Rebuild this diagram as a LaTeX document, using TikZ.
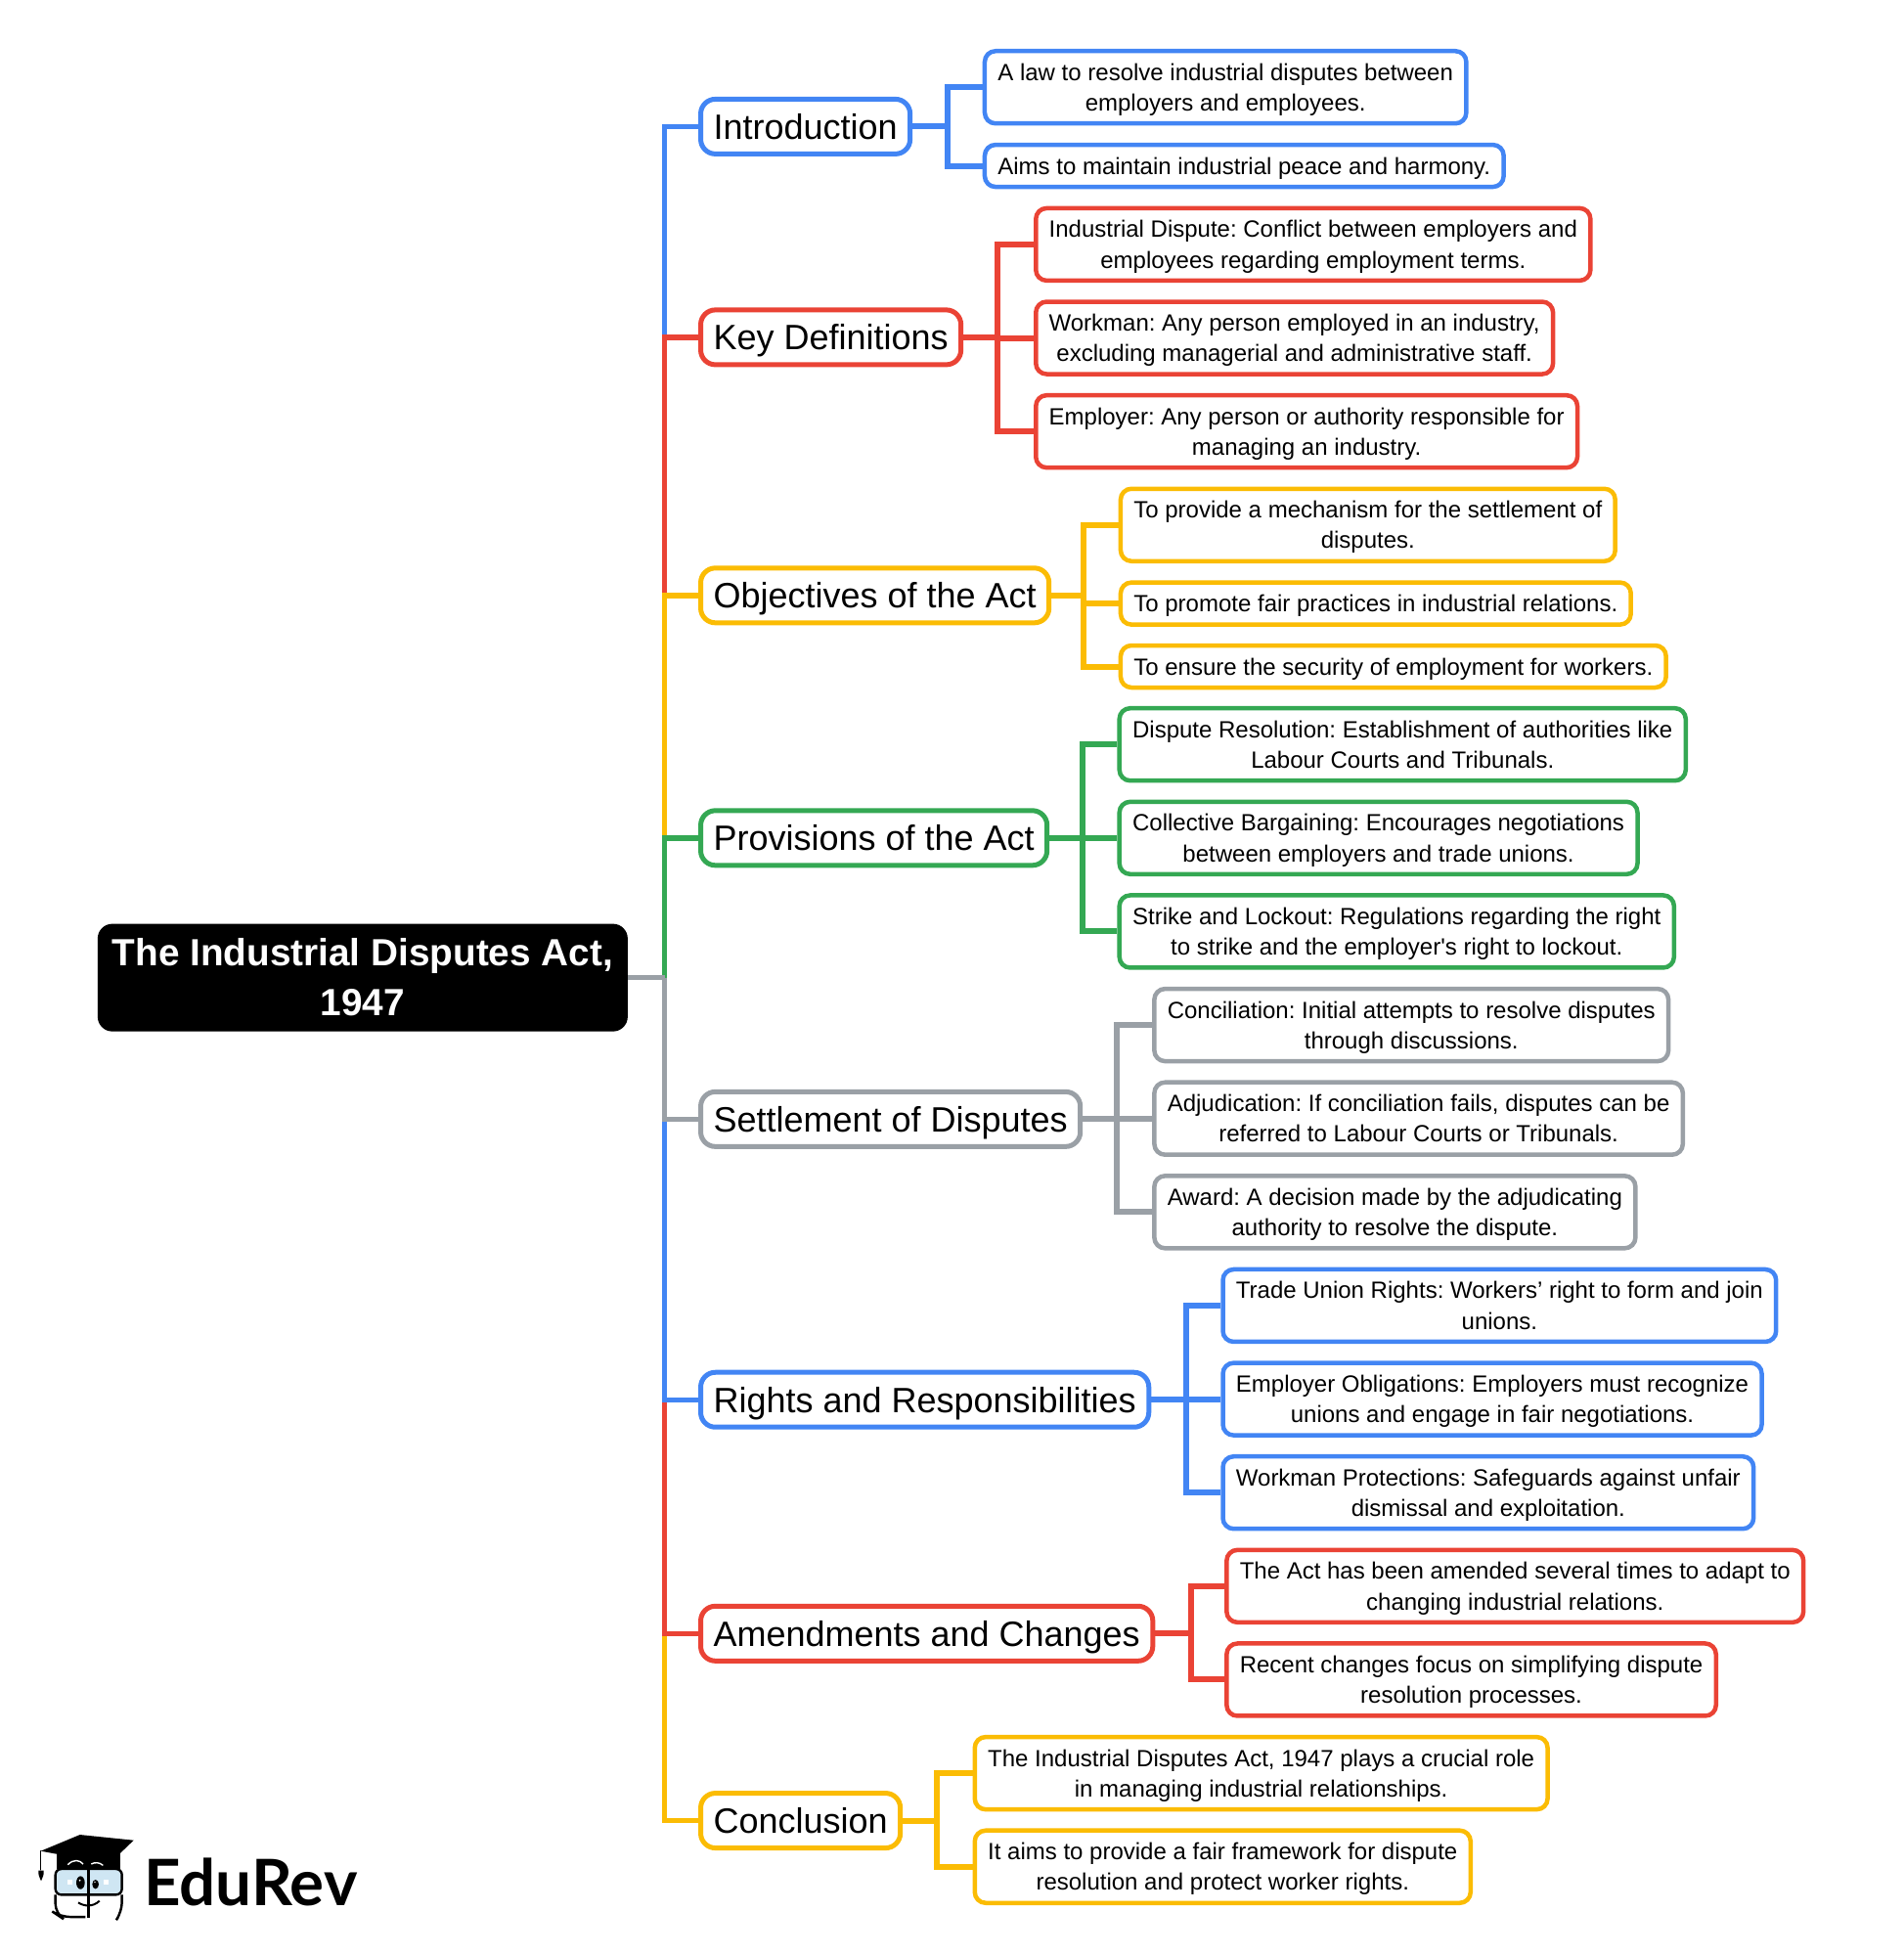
\documentclass[tikz,border=0pt]{standalone}
\usepackage{fontspec}
\setmainfont{Liberation Sans}[Ligatures=TeXOff]
\newfontfamily\logofont{Lato}
\usetikzlibrary{calc}
\definecolor{mapblue}{HTML}{4285F4}
\definecolor{mapred}{HTML}{EA4335}
\definecolor{mapyellow}{HTML}{FBBC04}
\definecolor{mapgreen}{HTML}{34A853}
\definecolor{mapgray}{HTML}{9AA0A6}
\definecolor{logoglass}{HTML}{CFE6F3}
\frenchspacing
\tikzset{
	rootbox/.style={fill=black,text=white,rounded corners=7.5pt,inner xsep=0pt,inner ysep=0pt,
		minimum width=271pt,minimum height=55pt,align=center,anchor=west,text height=38.4pt,text depth=0pt,
		font=\fontsize{19.36}{25.2}\selectfont\bfseries},
	topicbox/.style={draw=#1,fill=white,line width=2.5pt,rounded corners=7.5pt,inner xsep=6.5pt,inner ysep=0pt,
		minimum height=28pt,anchor=west,text height=13.5pt,text depth=.7pt,font=\fontsize{18}{22}\selectfont},
	leafbox/.style={draw=#1,fill=white,line width=2.25pt,rounded corners=5.5pt,inner xsep=6.7pt,inner ysep=0pt,
		minimum height=37pt,align=center,anchor=west,text height=24.9pt,text depth=.7pt,
		font=\fontsize{12}{15.6}\selectfont},
	leafone/.style={leafbox=#1,minimum height=21.5pt,text height=9.5pt},
	spineline/.style={draw=#1,line width=2.7pt},
	forkline/.style={draw=#1,line width=3pt}
}
\begin{document}
\begin{tikzpicture}[x=.6375pt,y=-.6375pt]
	\useasboundingbox (0,0) rectangle (1526.3,1567.8);
	\node[rootbox] (root) at (78,784) {The Industrial Disputes Act,\\1947};
	\coordinate (spine) at (533,784);

	\node[topicbox=mapblue] (intro) at (560,101.5) {Introduction};
	\node[topicbox=mapred] (keydef) at (560,270.5) {Key Definitions};
	\node[topicbox=mapyellow] (objectives) at (560,477.5) {Objectives of the Act};
	\node[topicbox=mapgreen] (provisions) at (560,672) {Provisions of the Act};
	\node[topicbox=mapgray] (settlement) at (560,897.5) {Settlement of Disputes};
	\node[topicbox=mapblue] (rights) at (560,1122.5) {Rights and Responsibilities};
	\node[topicbox=mapred] (amendments) at (560,1310) {Amendments and Changes};
	\node[topicbox=mapyellow] (conclusion) at (560,1460) {Conclusion};

	\node[leafbox=mapblue] (introa) at (788,70) {A law to resolve industrial disputes between\\employers and employees.};
	\node[leafone=mapblue] (introb) at (788,133) {Aims to maintain industrial peace and harmony.};

	\node[leafbox=mapred] (keydefa) at (829,196) {Industrial Dispute: Conflict between employers and\\employees regarding employment terms.};
	\node[leafbox=mapred] (keydefb) at (829,271) {Workman: Any person employed in an industry,\\excluding managerial and administrative staff.};
	\node[leafbox=mapred] (keydefc) at (829,346) {Employer: Any person or authority responsible for\\managing an industry.};

	\node[leafbox=mapyellow] (objectivesa) at (897,421) {To provide a mechanism for the settlement of\\disputes.};
	\node[leafone=mapyellow] (objectivesb) at (897,484) {To promote fair practices in industrial relations.};
	\node[leafone=mapyellow] (objectivesc) at (897,534.5) {To ensure the security of employment for workers.};

	\node[leafbox=mapgreen] (provisionsa) at (896,597) {Dispute Resolution: Establishment of authorities like\\Labour Courts and Tribunals.};
	\node[leafbox=mapgreen] (provisionsb) at (896,672) {Collective Bargaining: Encourages negotiations\\between employers and trade unions.};
	\node[leafbox=mapgreen] (provisionsc) at (896,747) {Strike and Lockout: Regulations regarding the right\\to strike and the employer's right to lockout.};

	\node[leafbox=mapgray] (settlementa) at (924,822) {Conciliation: Initial attempts to resolve disputes\\through discussions.};
	\node[leafbox=mapgray] (settlementb) at (924,897) {Adjudication: If conciliation fails, disputes can be\\referred to Labour Courts or Tribunals.};
	\node[leafbox=mapgray] (settlementc) at (924,972) {Award: A decision made by the adjudicating\\authority to resolve the dispute.};

	\node[leafbox=mapblue] (rightsa) at (979,1047) {Trade Union Rights: Workers’ right to form and join\\unions.};
	\node[leafbox=mapblue] (rightsb) at (979,1122) {Employer Obligations: Employers must recognize\\unions and engage in fair negotiations.};
	\node[leafbox=mapblue] (rightsc) at (979,1197) {Workman Protections: Safeguards against unfair\\dismissal and exploitation.};

	\node[leafbox=mapred] (amendmentsa) at (982,1272) {The Act has been amended several times to adapt to\\changing industrial relations.};
	\node[leafbox=mapred] (amendmentsb) at (982,1347) {Recent changes focus on simplifying dispute\\resolution processes.};

	\node[leafbox=mapyellow] (conclusiona) at (780,1422) {The Industrial Disputes Act, 1947 plays a crucial role\\in managing industrial relationships.};
	\node[leafbox=mapyellow] (conclusionb) at (780,1497) {It aims to provide a fair framework for dispute\\resolution and protect worker rights.};

	% main spine, outermost branches first
	\foreach \topic/\col in {intro/mapblue,keydef/mapred,objectives/mapyellow,provisions/mapgreen,
		conclusion/mapyellow,amendments/mapred,rights/mapblue,settlement/mapgray}
		\draw[spineline=\col] (spine) |- (\topic.west);
	\draw[spineline=mapgray] (root.east) -- (spine);

	% forks to the leaves
	\foreach \topic/\col/\forkx/\leaves in {intro/mapblue/760/{introa,introb},
		keydef/mapred/800/{keydefa,keydefb,keydefc},
		objectives/mapyellow/869/{objectivesa,objectivesb,objectivesc},
		provisions/mapgreen/868/{provisionsa,provisionsb,provisionsc},
		settlement/mapgray/896/{settlementa,settlementb,settlementc},
		rights/mapblue/951/{rightsa,rightsb,rightsc},
		amendments/mapred/955/{amendmentsa,amendmentsb},
		conclusion/mapyellow/751/{conclusiona,conclusionb}}{
		\coordinate (fork) at (\forkx,0 |- \topic.east);
		\draw[forkline=\col] (\topic.east) -- (fork);
		\foreach \leaf in \leaves
			\draw[forkline=\col] (fork) |- (\leaf.west);
	}

	% logo
	\node[anchor=base west,inner sep=0pt,font=\logofont\bfseries\fontsize{32.7}{32.7}\selectfont] (logotext) at (115,1528) {EduRev};
	\begin{scope}[shift={(0,1443.1)},x=.1667pt,y=-.1667pt]
		\fill (175,165) rectangle (368,212);
		\fill (125,158) -- (245,108) -- (410,125) -- (335,197) -- cycle;
		\draw[white,line width=.7pt] (208,200) .. controls (225,182) and (245,185) .. (255,198);
		\draw[white,line width=.7pt] (280,198) .. controls (290,192) and (305,192) .. (316,202);
		\draw[line width=.8pt,line cap=round] (125,158) -- (125,215);
		\fill (118,218) -- (134,218) .. controls (136,230) and (130,240) .. (126,250) .. controls (122,240) and (116,230) .. (118,218) -- cycle;
		\draw[line width=1.2pt,fill=logoglass,rounded corners=3pt] (170,213) rectangle (374,292);
		\draw[line width=1.2pt,rounded corners=5pt] (262,360) -- (185,360) -- (170,350) -- (170,292);
		\draw[line width=1.2pt,rounded corners=5pt] (374,292) -- (374,345) -- (362,362);
		\draw[line width=1.6pt] (271,213) -- (271,363);
		\fill (247,255) ellipse (13 and 20);
		\fill (293,260) ellipse (10 and 14);
		\fill[white] (245,248) circle (3);
		\fill[white] (291,253) circle (2.5);
		\fill[white] (207,246) rectangle (222,261);
		\fill[white] (318,246) rectangle (333,261);
		\draw[line width=1pt] (240,316) .. controls (258,328) and (285,330) .. (305,311);
	\end{scope}
\end{tikzpicture}
\end{document}
